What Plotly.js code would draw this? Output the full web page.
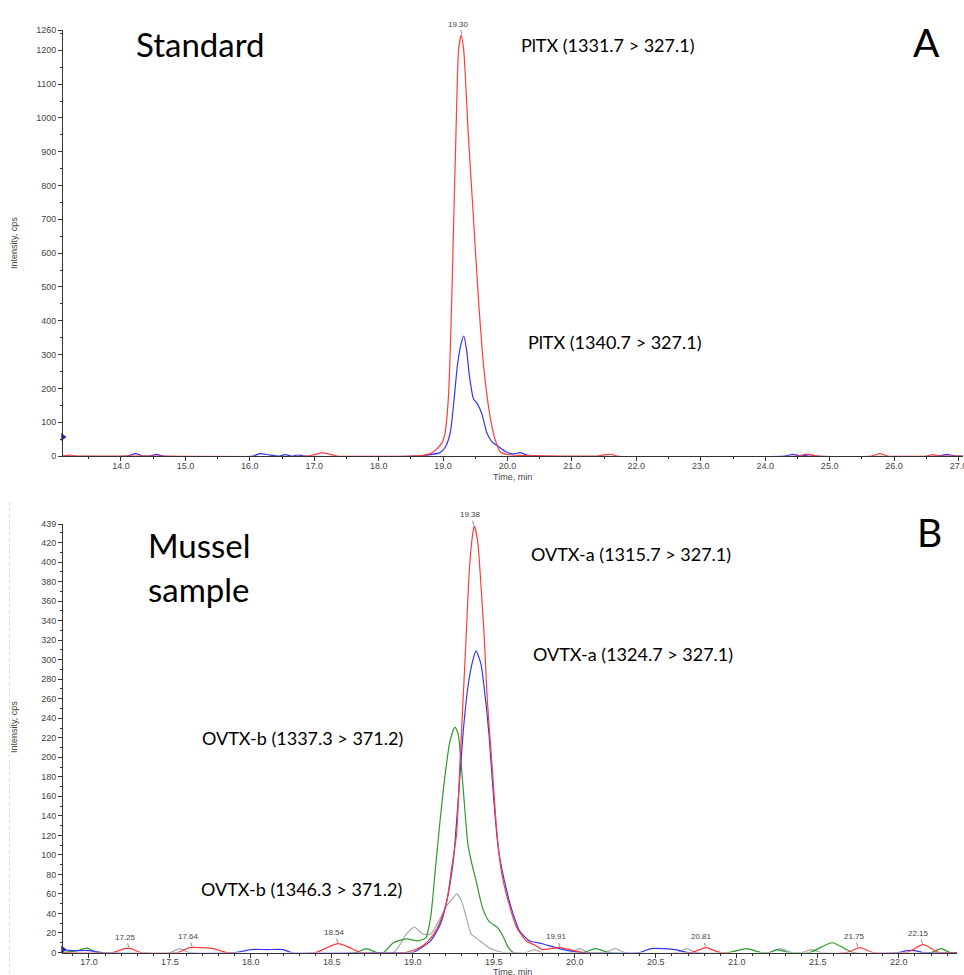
<!DOCTYPE html>
<html>
<head>
<meta charset="utf-8">
<script src="https://cdn.plot.ly/plotly-3.0.1.min.js"></script>
<style>html,body{margin:0;padding:0;background:#fff;}#chart{width:964px;height:975px;}</style>
</head>
<body>
<div id="chart"></div>
<script>
// ---------- Panel A (Standard) ----------
const timeA_1331 = [13.10,13.2,13.3,14.0,16.9,17.0,17.12,17.25,17.35,18.5,18.7,18.85,18.98,19.03,19.08,19.12,19.16,19.20,19.24,19.28,19.32,19.39,19.47,19.55,19.63,19.73,19.81,19.89,19.99,20.2,21.4,21.52,21.62,21.7,24.5,24.62,24.7,24.8,25.65,25.78,25.9,26.5,26.6,26.7,27.07];
const intA_1331  = [0,3,0,0,0,4,9,5,0,0,2,12,38,68,166,364,660,955,1200,1245,1200,955,707,461,264,116,47,12,5,2,0,4,5,0,0,5,4,0,0,7,0,0,4,0,0];
const timeA_1340 = [13.1,14.1,14.22,14.35,14.45,14.55,14.65,16.05,16.16,16.3,16.45,16.55,16.65,16.75,16.85,18.6,18.8,18.95,19.03,19.11,19.17,19.22,19.28,19.32,19.36,19.41,19.47,19.53,19.60,19.68,19.76,19.86,19.96,20.09,20.2,20.3,20.5,24.3,24.43,24.55,24.7,24.8,26.7,26.82,26.95,27.07];
const intA_1340  = [0,0,7,0,0,5,0,0,7,3,0,4,0,3,0,0,4,10,25,68,166,264,333,355,320,235,170,155,126,68,42,28,14,6,10,3,0,0,5,0,4,0,0,5,0,0];
const peakTimesA = [19.30];
const peakIntA   = [1245];
const yTicksA = [0,100,200,300,400,500,600,700,800,900,1000,1100,1200,1260];
const markerA = [56];

// ---------- Panel B (Mussel sample) ----------
const timeB_1315 = [16.84,17.15,17.22,17.26,17.32,17.55,17.62,17.7,17.77,17.85,18.4,18.47,18.54,18.61,18.68,18.95,19.0,19.07,19.13,19.17,19.21,19.24,19.27,19.29,19.31,19.33,19.35,19.37,19.38,19.40,19.42,19.44,19.46,19.49,19.52,19.55,19.60,19.64,19.70,19.76,19.80,19.85,19.91,19.97,20.05,20.72,20.81,20.9,21.68,21.76,21.84,22.05,22.15,22.25,22.36];
const intB_1315  = [0,0,4,4,0,0,5,5,4,0,0,5,9,5,0,0,2,8,19,32,53,87,121,190,258,326,395,429,437,422,378,326,258,190,121,80,46,26,12,7,3,4,5,3,0,0,5,0,0,5,0,0,8,0,0];
const timeB_1324 = [16.84,16.9,17.0,17.08,17.9,18.0,18.1,18.2,18.25,18.9,19.0,19.11,19.17,19.21,19.25,19.28,19.31,19.34,19.37,19.39,19.42,19.44,19.47,19.50,19.53,19.58,19.62,19.66,19.72,19.80,19.88,19.96,20.05,20.4,20.47,20.55,20.62,20.7,22.0,22.05,22.1,22.15,22.36];
const intB_1324  = [3,2,2,0,0,3,3,3,0,0,0,12,29,53,94,156,224,272,299,309,296,272,224,156,104,63,39,22,12,9,5,2,0,0,4,4,3,0,0,2,2,0,0];
const timeB_1337 = [16.84,16.93,16.99,17.05,18.65,18.71,18.78,18.82,18.88,18.96,19.03,19.08,19.11,19.14,19.17,19.20,19.23,19.26,19.28,19.30,19.32,19.34,19.36,19.39,19.43,19.47,19.52,19.55,19.59,19.62,20.05,20.13,20.21,20.95,21.06,21.15,21.2,21.25,21.32,21.45,21.59,21.72,22.2,22.26,22.32,22.36];
const intB_1337  = [0,2,4.5,0,0,4,0,0,10,14,12,15,36,87,138,183,217,231,224,190,149,111,94,74,46,32,26,19,5,0,0,4,0,0,4,0,0,3,0,0,10,0,0,4,0,0];
const timeB_1346 = [16.84,17.5,17.56,17.62,18.88,18.96,19.01,19.06,19.11,19.16,19.21,19.25,19.27,19.30,19.33,19.36,19.39,19.43,19.47,19.51,19.56,19.7,19.75,19.8,19.98,20.03,20.08,20.19,20.25,20.31,20.63,20.69,20.75,21.2,21.27,21.34,21.4,21.46,21.52,22.36];
const intB_1346  = [0,0,4,0,0,19,26,19,19,32,48,56,60,53,36,19,15,10,5,2,0,0,3,0,0,4,0,0,4,0,0,4,0,0,4,0,0,3,0,0];
const peakTimesB = [17.25,17.64,18.54,19.38,19.91,20.81,21.75,22.15];
const peakIntB   = [4,5,9,437,5,5,5,8];
const yTicksB = [0,20,40,60,80,100,120,140,160,180,200,220,240,260,280,300,320,340,360,380,400,420,439];
const markerB = [3];

const RED = '#ff3b3b', BLUE = '#3535f5', GREEN = '#2f9a2f', GRAY = '#a8a8a8';
const W = 964, H = 975;
const px = x => x / W, py = y => 1 - y / H;

function line(x, y, color, xa, ya) {
  return {x: x, y: y, type: 'scatter', mode: 'lines', xaxis: xa, yaxis: ya,
          line: {color: color, width: 1.2, shape: 'spline', smoothing: 0.6}, hoverinfo: 'skip'};
}
const traces = [
  line(timeA_1340, intA_1340, BLUE, 'x', 'y'),
  line(timeA_1331, intA_1331, RED, 'x', 'y'),
  line(timeB_1346, intB_1346, GRAY, 'x2', 'y2'),
  line(timeB_1337, intB_1337, GREEN, 'x2', 'y2'),
  line(timeB_1324, intB_1324, BLUE, 'x2', 'y2'),
  line(timeB_1315, intB_1315, RED, 'x2', 'y2'),
  {x: [13.1], y: markerA, xaxis: 'x', yaxis: 'y', type: 'scatter', mode: 'markers', cliponaxis: false,
   marker: {symbol: 'triangle-right', size: 7, color: '#2020d0'}, hoverinfo: 'skip'},
  {x: [16.84], y: markerB, xaxis: 'x2', yaxis: 'y2', type: 'scatter', mode: 'markers', cliponaxis: false,
   marker: {symbol: 'triangle-right', size: 7, color: '#2020d0'}, hoverinfo: 'skip'}
];

const tickFont = {family: 'Liberation Sans, Arial, sans-serif', size: 9, color: '#444'};
const axBase = {showgrid: false, zeroline: false, showline: true, linecolor: '#333', linewidth: 1,
                ticks: 'outside', ticklen: 4, tickcolor: '#333', tickfont: tickFont, automargin: false,
                fixedrange: true, ticklabeloverflow: 'allow'};

const labelFont = {family: 'Lato, Carlito, sans-serif', size: 18, color: '#000'};
const bigFont = {family: 'Lato, Carlito, sans-serif', size: 33, color: '#000'};
const letterFont = {family: 'Lato, Carlito, sans-serif', size: 39, color: '#000'};
const smallFont = {family: 'Liberation Sans, Arial, sans-serif', size: 9, color: '#444'};

function txt(text, x, y, font, xanchor, extra) {
  return Object.assign({text: text, x: px(x), y: py(y), xref: 'paper', yref: 'paper', showarrow: false,
                        xanchor: xanchor || 'left', yanchor: 'middle', font: font}, extra || {});
}
const annotations = [
  txt('Standard', 134, 44, bigFont),
  txt('A', 926, 42, letterFont, 'center'),
  txt('PlTX (1331.7 &gt; 327.1)', 519, 45, labelFont),
  txt('PlTX (1340.7 &gt; 327.1)', 526, 342, labelFont),
  txt('Mussel', 146, 545, bigFont),
  txt('sample', 146, 589, bigFont),
  txt('B', 929, 532, letterFont, 'center'),
  txt('OVTX-a (1315.7 &gt; 327.1)', 529, 554, labelFont),
  txt('OVTX-a (1324.7 &gt; 327.1)', 531, 654, labelFont),
  txt('OVTX-b (1337.3 &gt; 371.2)', 200, 738, labelFont),
  txt('OVTX-b (1346.3 &gt; 371.2)', 199, 889, labelFont),
  txt('Intensity, cps', 14, 243, smallFont, 'center', {textangle: -90}),
  txt('Intensity, cps', 14, 727, smallFont, 'center', {textangle: -90}),
  txt('Time, min', 512, 477, smallFont, 'center'),
  txt('Time, min', 512, 972, smallFont, 'center')
];
function peakLabel(t, v, xa, ya) {
  return {text: t.toFixed(2), x: t, y: v, xref: xa, yref: ya, showarrow: true, arrowhead: 0,
          arrowwidth: 0.7, arrowcolor: '#555', ax: -4, ay: -11, standoff: 1,
          font: {family: 'Liberation Sans, Arial, sans-serif', size: 8, color: '#444'}};
}
peakTimesA.forEach((t, i) => annotations.push(peakLabel(t, peakIntA[i], 'x', 'y')));
peakTimesB.forEach((t, i) => annotations.push(peakLabel(t, peakIntB[i], 'x2', 'y2')));

const layout = {
  width: W, height: H, margin: {l: 0, r: 0, t: 0, b: 0}, paper_bgcolor: '#fff', plot_bgcolor: '#fff',
  showlegend: false,
  xaxis: Object.assign({}, axBase, {domain: [px(63), px(963)], range: [13.1, 27.07], anchor: 'y',
          tickmode: 'linear', tick0: 0, dtick: 1, tickformat: '.1f', ticklabelstandoff: -3,
          minor: {ticks: 'outside', ticklen: 2, tickcolor: '#333', tickmode: 'linear', tick0: 0, dtick: 0.5}}),
  yaxis: Object.assign({}, axBase, {domain: [py(456), py(30)], range: [0, 1260], anchor: 'x',
          tickmode: 'array', tickvals: yTicksA, ticktext: yTicksA.map(String),
          minor: {ticks: 'outside', ticklen: 2, tickcolor: '#333', tickmode: 'linear', tick0: 0, dtick: 50}}),
  xaxis2: Object.assign({}, axBase, {domain: [px(63), px(957)], range: [16.84, 22.36], anchor: 'y2',
          tickmode: 'linear', tick0: 0, dtick: 0.5, tickformat: '.1f', ticklabelstandoff: -3,
          minor: {ticks: 'outside', ticklen: 2, tickcolor: '#333', tickmode: 'linear', tick0: 0, dtick: 0.1}}),
  yaxis2: Object.assign({}, axBase, {domain: [py(952.5), py(524)], range: [0, 439], anchor: 'x2',
          tickmode: 'array', tickvals: yTicksB, ticktext: yTicksB.map(String),
          minor: {ticks: 'outside', ticklen: 2, tickcolor: '#333', tickmode: 'linear', tick0: 0, dtick: 10}}),
  shapes: [{type: 'line', xref: 'paper', yref: 'paper', x0: px(9.5), x1: px(9.5), y0: py(502), y1: 0,
            line: {color: '#d8d8d8', width: 1, dash: 'dot'}}],
  annotations: annotations
};
Plotly.newPlot('chart', traces, layout, {staticPlot: true, displayModeBar: false});
</script>
</body>
</html>
